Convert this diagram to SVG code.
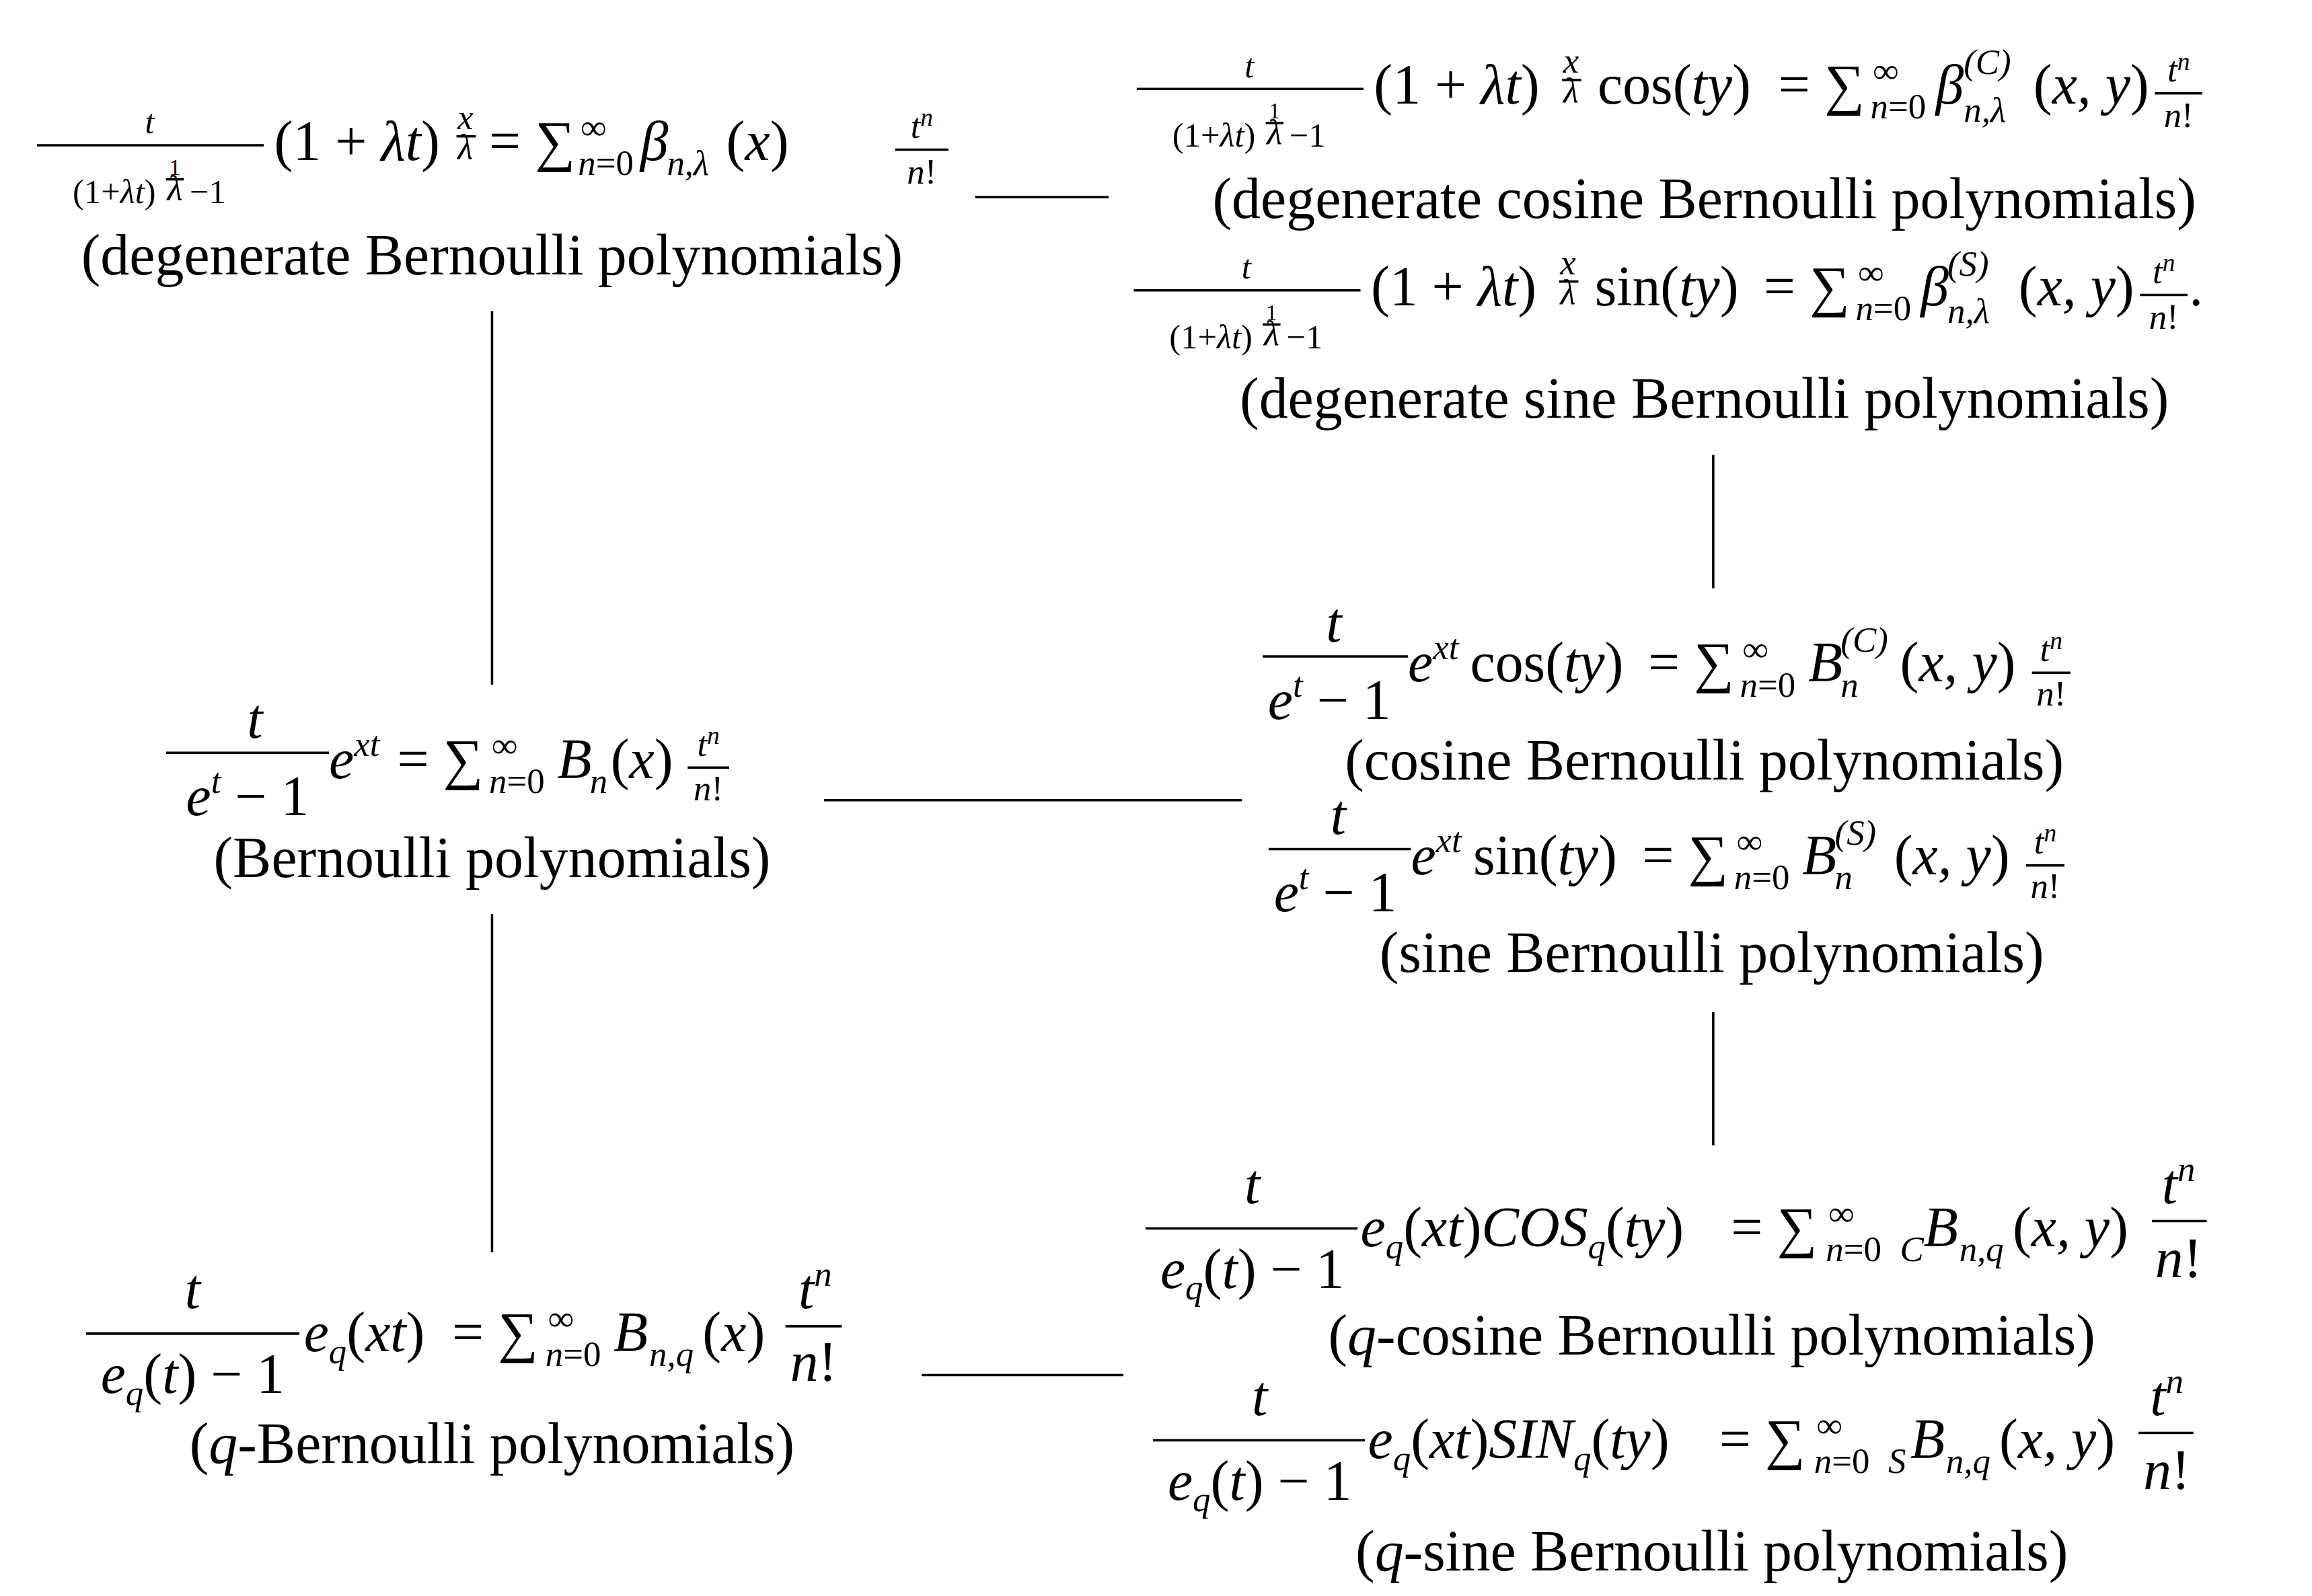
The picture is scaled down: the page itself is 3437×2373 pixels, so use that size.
<svg xmlns="http://www.w3.org/2000/svg" width="3437" height="2373" viewBox="0 0 3437 2373">
<style>
text{font-family:"Liberation Serif","DejaVu Serif",serif;fill:#000}
.m{font-style:italic;font-size:38px}
.r{font-style:normal}
.l{font-size:39px;text-anchor:middle}
.u{font-style:italic;font-size:24px}
.f{font-style:italic;font-size:23px}
.c{text-anchor:middle}
line{stroke:#000;stroke-width:1.6}
</style>
<rect width="3437" height="2373" fill="#fff"/>
<g transform="scale(2.2032)">
<g id="connectors">
<line x1="658" y1="133" x2="748" y2="133"/>
<line x1="332" y1="210" x2="332" y2="462"/>
<line x1="1156" y1="307" x2="1156" y2="397"/>
<line x1="556" y1="540" x2="838" y2="540"/>
<line x1="332" y1="617" x2="332" y2="845"/>
<line x1="1156" y1="683" x2="1156" y2="773"/>
<line x1="622" y1="928" x2="758" y2="928"/>
</g>
<g id="degenerate-bernoulli">
<text class="f c" x="101" y="90">t</text>
<line x1="25" y1="98" x2="178" y2="98"/>
<text class="f" x="49" y="137"><tspan class="r">(1+</tspan>λt<tspan class="r">)</tspan></text>
<text class="r c" font-size="15" x="118" y="118">1</text>
<line x1="112" y1="121" x2="124" y2="121"/>
<text class="u c" font-size="15" x="118" y="135">λ</text>
<text class="r" font-size="23" x="128" y="137">−1</text>
<text class="m" x="185" y="108"><tspan class="r">(1 + </tspan>λt<tspan class="r">)</tspan></text>
<text class="u c" font-size="19" x="314" y="87">x</text>
<line x1="308" y1="92" x2="321" y2="92"/>
<text class="u c" font-size="17" x="314" y="107">λ</text>
<text class="m r" x="330" y="108">= ∑</text>
<text class="u r" x="392" y="94">∞</text>
<text class="u" x="390" y="118">n<tspan class="r">=0</tspan></text>
<text class="m" x="432" y="108">β</text>
<text class="u" x="450" y="118">n,λ</text>
<text class="m" x="490" y="108"><tspan class="r">(</tspan>x<tspan class="r">)</tspan></text>
<text class="u c" x="622" y="93">t<tspan font-size="17" dy="-8">n</tspan></text>
<line x1="604" y1="101" x2="640" y2="101"/>
<text class="u c" x="622" y="124">n<tspan class="r">!</tspan></text>
<text class="l" x="332" y="185">(degenerate Bernoulli polynomials)</text>
</g>
<g id="degenerate-cosine-sine">
<text class="f c" x="843" y="52">t</text>
<line x1="767" y1="60" x2="920" y2="60"/>
<text class="f" x="791" y="99"><tspan class="r">(1+</tspan>λt<tspan class="r">)</tspan></text>
<text class="r c" font-size="15" x="860" y="80">1</text>
<line x1="854" y1="83" x2="866" y2="83"/>
<text class="u c" font-size="15" x="860" y="97">λ</text>
<text class="r" font-size="23" x="870" y="99">−1</text>
<text class="m" x="927" y="70"><tspan class="r">(1 + </tspan>λt<tspan class="r">)</tspan></text>
<text class="u c" font-size="19" x="1060" y="49">x</text>
<line x1="1054" y1="54" x2="1067" y2="54"/>
<text class="u c" font-size="17" x="1060" y="69">λ</text>
<text class="m" x="1078" y="70"><tspan class="r">cos(</tspan>ty<tspan class="r">)</tspan></text>
<text class="m r" x="1200" y="70">= ∑</text>
<text class="u r" x="1264" y="56">∞</text>
<text class="u" x="1262" y="80">n<tspan class="r">=0</tspan></text>
<text class="m" x="1306" y="70">β</text>
<text class="u r" x="1325" y="50">(C)</text>
<text class="u" x="1325" y="82">n,λ</text>
<text class="m" x="1372" y="70"><tspan class="r">(</tspan>x, y<tspan class="r">)</tspan></text>
<text class="u c" x="1470" y="55">t<tspan font-size="17" dy="-8">n</tspan></text>
<line x1="1454" y1="63" x2="1486" y2="63"/>
<text class="u c" x="1470" y="86">n<tspan class="r">!</tspan></text>
<text class="l" x="1150" y="147">(degenerate cosine Bernoulli polynomials)</text>
<text class="f c" x="841" y="188">t</text>
<line x1="765" y1="196" x2="918" y2="196"/>
<text class="f" x="789" y="235"><tspan class="r">(1+</tspan>λt<tspan class="r">)</tspan></text>
<text class="r c" font-size="15" x="858" y="216">1</text>
<line x1="852" y1="219" x2="864" y2="219"/>
<text class="u c" font-size="15" x="858" y="233">λ</text>
<text class="r" font-size="23" x="868" y="235">−1</text>
<text class="m" x="925" y="206"><tspan class="r">(1 + </tspan>λt<tspan class="r">)</tspan></text>
<text class="u c" font-size="19" x="1058" y="185">x</text>
<line x1="1052" y1="190" x2="1065" y2="190"/>
<text class="u c" font-size="17" x="1058" y="205">λ</text>
<text class="m" x="1076" y="206"><tspan class="r">sin(</tspan>ty<tspan class="r">)</tspan></text>
<text class="m r" x="1190" y="206">= ∑</text>
<text class="u r" x="1254" y="192">∞</text>
<text class="u" x="1252" y="216">n<tspan class="r">=0</tspan></text>
<text class="m" x="1296" y="206">β</text>
<text class="u r" x="1314" y="186">(<tspan font-style="italic">S</tspan>)</text>
<text class="u" x="1314" y="218">n,λ</text>
<text class="m" x="1362" y="206"><tspan class="r">(</tspan>x, y<tspan class="r">)</tspan></text>
<text class="u c" x="1460" y="191">t<tspan font-size="17" dy="-8">n</tspan></text>
<line x1="1444" y1="199" x2="1476" y2="199"/>
<text class="u c" x="1460" y="222">n<tspan class="r">!</tspan></text>
<text class="m r" x="1477" y="206">.</text>
<text class="l" x="1150" y="282">(degenerate sine Bernoulli polynomials)</text>
</g>
<g id="bernoulli">
<text class="m c" x="172" y="498">t</text>
<line x1="112" y1="508" x2="222" y2="508"/>
<text class="m c" x="167" y="550">e<tspan font-size="24" dy="-15">t</tspan><tspan class="r" dy="15"> − 1</tspan></text>
<text class="m" x="222" y="525">e<tspan font-size="24" dy="-15">xt</tspan></text>
<text class="m r" x="268" y="525">= ∑</text>
<text class="u r" x="332" y="511">∞</text>
<text class="u" x="330" y="535">n<tspan class="r">=0</tspan></text>
<text class="m" x="376" y="525">B</text>
<text class="u" x="398" y="535">n</text>
<text class="m" x="412" y="525"><tspan class="r">(</tspan>x<tspan class="r">)</tspan></text>
<text class="u c" x="478" y="510">t<tspan font-size="17" dy="-8">n</tspan></text>
<line x1="464" y1="518" x2="492" y2="518"/>
<text class="u c" x="478" y="540">n<tspan class="r">!</tspan></text>
<text class="l" x="332" y="592">(Bernoulli polynomials)</text>
</g>
<g id="cosine-sine">
<text class="m c" x="900" y="433">t</text>
<line x1="852" y1="443" x2="950" y2="443"/>
<text class="m c" x="897" y="485">e<tspan font-size="24" dy="-15">t</tspan><tspan class="r" dy="15"> − 1</tspan></text>
<text class="m" x="950" y="460">e<tspan font-size="24" dy="-15">xt</tspan></text>
<text class="m" x="992" y="460"><tspan class="r">cos(</tspan>ty<tspan class="r">)</tspan></text>
<text class="m r" x="1112" y="460">= ∑</text>
<text class="u r" x="1176" y="446">∞</text>
<text class="u" x="1174" y="470">n<tspan class="r">=0</tspan></text>
<text class="m" x="1220" y="460">B</text>
<text class="u r" x="1242" y="440">(C)</text>
<text class="u" x="1242" y="470">n</text>
<text class="m" x="1282" y="460"><tspan class="r">(</tspan>x, y<tspan class="r">)</tspan></text>
<text class="u c" x="1384" y="446">t<tspan font-size="17" dy="-8">n</tspan></text>
<line x1="1371" y1="454" x2="1397" y2="454"/>
<text class="u c" x="1384" y="476">n<tspan class="r">!</tspan></text>
<text class="l" x="1150" y="526">(cosine Bernoulli polynomials)</text>
<text class="m c" x="903" y="563">t</text>
<line x1="856" y1="573" x2="952" y2="573"/>
<text class="m c" x="901" y="615">e<tspan font-size="24" dy="-15">t</tspan><tspan class="r" dy="15"> − 1</tspan></text>
<text class="m" x="952" y="590">e<tspan font-size="24" dy="-15">xt</tspan></text>
<text class="m" x="994" y="590"><tspan class="r">sin(</tspan>ty<tspan class="r">)</tspan></text>
<text class="m r" x="1108" y="590">= ∑</text>
<text class="u r" x="1172" y="576">∞</text>
<text class="u" x="1170" y="600">n<tspan class="r">=0</tspan></text>
<text class="m" x="1216" y="590">B</text>
<text class="u r" x="1238" y="570">(<tspan font-style="italic">S</tspan>)</text>
<text class="u" x="1238" y="600">n</text>
<text class="m" x="1278" y="590"><tspan class="r">(</tspan>x, y<tspan class="r">)</tspan></text>
<text class="u c" x="1380" y="576">t<tspan font-size="17" dy="-8">n</tspan></text>
<line x1="1367" y1="584" x2="1393" y2="584"/>
<text class="u c" x="1380" y="606">n<tspan class="r">!</tspan></text>
<text class="l" x="1155" y="656">(sine Bernoulli polynomials)</text>
</g>
<g id="q-bernoulli">
<text class="m c" x="130" y="883">t</text>
<line x1="58" y1="900" x2="202" y2="900"/>
<text class="m c" x="130" y="940">e<tspan font-size="24" dy="8">q</tspan><tspan class="r" dy="-8">(</tspan>t<tspan class="r">) − 1</tspan></text>
<text class="m" x="205" y="912">e<tspan font-size="24" dy="8">q</tspan><tspan class="r" dy="-8">(</tspan>xt<tspan class="r">)</tspan></text>
<text class="m r" x="305" y="912">= ∑</text>
<text class="u r" x="370" y="898">∞</text>
<text class="u" x="368" y="922">n<tspan class="r">=0</tspan></text>
<text class="m" x="414" y="912">B</text>
<text class="u" x="438" y="922">n,q</text>
<text class="m" x="474" y="912"><tspan class="r">(</tspan>x<tspan class="r">)</tspan></text>
<text class="m c" x="550" y="883">t<tspan font-size="24" dy="-15">n</tspan></text>
<line x1="530" y1="895" x2="568" y2="895"/>
<text class="m c" x="549" y="932">n<tspan class="r">!</tspan></text>
<text class="l" x="332" y="987">(<tspan font-style="italic">q</tspan>-Bernoulli polynomials)</text>
</g>
<g id="q-cosine-sine">
<text class="m c" x="845" y="812">t</text>
<line x1="773" y1="829" x2="916" y2="829"/>
<text class="m c" x="845" y="869">e<tspan font-size="24" dy="8">q</tspan><tspan class="r" dy="-8">(</tspan>t<tspan class="r">) − 1</tspan></text>
<text class="m" x="918" y="841">e<tspan font-size="24" dy="8">q</tspan><tspan class="r" dy="-8">(</tspan>xt<tspan class="r">)</tspan>COS<tspan font-size="24" dy="8">q</tspan><tspan class="r" dy="-8">(</tspan>ty<tspan class="r">)</tspan></text>
<text class="m r" x="1168" y="841">= ∑</text>
<text class="u r" x="1234" y="827">∞</text>
<text class="u" x="1232" y="851">n<tspan class="r">=0</tspan></text>
<text class="u" x="1282" y="851">C</text>
<text class="m" x="1298" y="841">B</text>
<text class="u" x="1322" y="851">n,q</text>
<text class="m" x="1358" y="841"><tspan class="r">(</tspan>x, y<tspan class="r">)</tspan></text>
<text class="m c" x="1470" y="812">t<tspan font-size="24" dy="-15">n</tspan></text>
<line x1="1452" y1="824" x2="1489" y2="824"/>
<text class="m c" x="1470" y="862">n<tspan class="r">!</tspan></text>
<text class="l" x="1155" y="914">(<tspan font-style="italic">q</tspan>-cosine Bernoulli polynomials)</text>
<text class="m c" x="850" y="955">t</text>
<line x1="778" y1="972" x2="921" y2="972"/>
<text class="m c" x="850" y="1012">e<tspan font-size="24" dy="8">q</tspan><tspan class="r" dy="-8">(</tspan>t<tspan class="r">) − 1</tspan></text>
<text class="m" x="923" y="984">e<tspan font-size="24" dy="8">q</tspan><tspan class="r" dy="-8">(</tspan>xt<tspan class="r">)</tspan>SIN<tspan font-size="24" dy="8">q</tspan><tspan class="r" dy="-8">(</tspan>ty<tspan class="r">)</tspan></text>
<text class="m r" x="1160" y="984">= ∑</text>
<text class="u r" x="1226" y="970">∞</text>
<text class="u" x="1224" y="994">n<tspan class="r">=0</tspan></text>
<text class="u" x="1274" y="994">S</text>
<text class="m" x="1289" y="984">B</text>
<text class="u" x="1313" y="994">n,q</text>
<text class="m" x="1349" y="984"><tspan class="r">(</tspan>x, y<tspan class="r">)</tspan></text>
<text class="m c" x="1462" y="955">t<tspan font-size="24" dy="-15">n</tspan></text>
<line x1="1443" y1="967" x2="1480" y2="967"/>
<text class="m c" x="1462" y="1005">n<tspan class="r">!</tspan></text>
<text class="l" x="1155" y="1060">(<tspan font-style="italic">q</tspan>-sine Bernoulli polynomials)</text>
</g>
</g>
</svg>
